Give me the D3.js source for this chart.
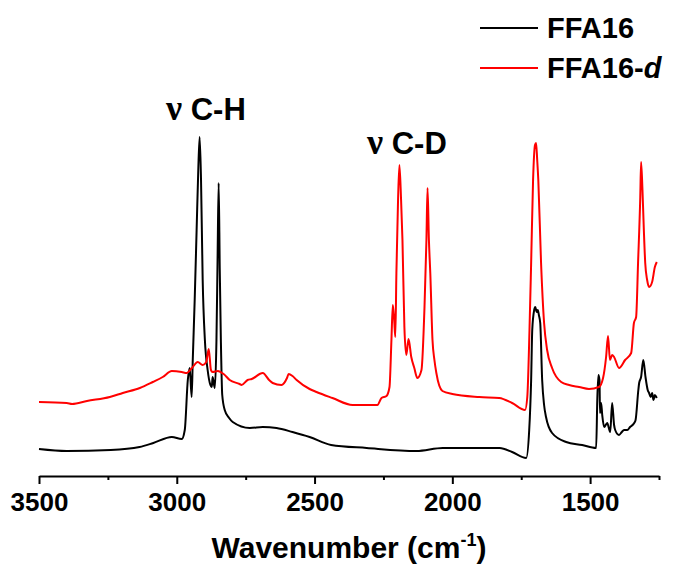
<!DOCTYPE html>
<html>
<head>
<meta charset="utf-8">
<script src="https://cdn.jsdelivr.net/npm/d3@7"></script>
<style>
  body { margin: 0; background: #fff; }
  text { font-family: "Liberation Sans", Arial, sans-serif; font-weight: bold; }
</style>
</head>
<body>
<div id="chart"></div>
<script>
// wavenumber (cm-1) and intensity (a.u.)
var ffaWn = [3500,3400,3240,3135,3085,3018,2982,2971,2960,2953,2946,2942,2935,2928,2922,2917,2912,2906,2898,2888,2878,2873,2870,2862,2856,2852,2848,2844,2840,2835,2826,2810,2797,2735,2688,2638,2580,2518,2440,2311,2130,2035,1900,1828,1783,1732,1721,1714,1710,1703,1699,1694,1690,1686,1681,1674,1667,1660,1638,1587,1529,1478,1474,1470,1466,1464,1460,1456,1449,1438,1427,1420,1413,1409,1395,1385,1377,1365,1355,1340,1335,1325,1322,1315,1307,1299,1291,1286,1280,1275,1270,1265,1258];
var ffaInt = [27,25,26,29,33,39,37,46,96,108,79,116,176,246,306,339,296,196,136,106,91,89,99,88,136,216,293,206,136,81,66,58,54,48,49,48,44,39,31,28,25,28,28,28,24,18,46,96,146,166,169,164,166,161,153,96,71,59,43,34,31,28,76,101,96,63,73,61,49,53,44,73,51,46,41,44,46,46,49,53,56,86,93,99,116,99,86,83,79,83,76,81,78];

var ffadWn = [3500,3399,3380,3326,3243,3196,3134,3087,3051,3018,2982,2964,2945,2924,2906,2893,2884,2876,2870,2851,2830,2808,2772,2765,2743,2728,2688,2665,2652,2620,2600,2594,2580,2565,2518,2493,2435,2362,2300,2272,2257,2239,2228,2221,2216,2211,2207,2203,2197,2192,2186,2181,2174,2167,2159,2149,2138,2127,2112,2101,2094,2090,2085,2080,2072,2065,2058,2036,2000,1902,1830,1783,1736,1728,1720,1714,1707,1700,1696,1692,1688,1678,1667,1656,1638,1605,1576,1540,1504,1468,1453,1442,1435,1428,1420,1413,1395,1373,1351,1341,1333,1326,1318,1315,1310,1305,1300,1293,1286,1275,1265,1258];
var ffadInt = [74,73,72,75,79,83,88,94,99,105,104,103,108,114,111,114,127,106,104,105,102,96,92,91,96,97,103,96,93,91,98,102,100,96,87,84,78,71,71,71,78,80,89,136,171,156,139,203,276,311,276,236,149,121,137,119,108,98,106,169,236,288,236,203,136,116,103,85,82,79,78,73,66,79,146,213,296,331,333,316,296,213,153,126,108,94,91,89,87,89,98,119,140,116,121,119,108,116,123,153,159,213,279,314,286,246,213,196,189,194,209,214];

var majorTicks = [3500,3000,2500,2000,1500];
var minorTicks = [3250,2750,2250,1750,1250];

var seriesNames = ["FFA16", "FFA16-d"];
var seriesColors = ["#000000", "#ff0000"];

var width = 673, height = 569;
var margin = {top: 76, right: 14, bottom: 93, left: 39};

var svg = d3.select("#chart")
    .append("svg")
        .attr("width", width)
        .attr("height", height);

var x = d3.scaleLinear()
    .domain([3500, 1250])
    .range([margin.left, width - margin.right]);

var y = d3.scaleLinear()
    .domain([0, 400])
    .range([height - margin.bottom, margin.top]);

// bottom axis, major + minor ticks
var axisY = height - margin.bottom;
var gx = svg.append("g")
    .attr("transform", "translate(0," + axisY + ")")
    .call(d3.axisBottom(x).tickValues(majorTicks).tickSize(8).tickSizeOuter(0).tickPadding(9).tickFormat(d3.format("d")));
gx.select(".domain").attr("stroke-width", 2);
gx.selectAll(".tick line").attr("stroke-width", 2);
gx.selectAll(".tick text").style("font-size", "26px").attr("fill", "#000");

svg.append("g")
    .attr("transform", "translate(0," + axisY + ")")
    .call(d3.axisBottom(x).tickValues(minorTicks).tickSize(4).tickFormat(""))
    .call(function(g){ g.select(".domain").remove(); })
    .selectAll(".tick line").attr("stroke-width", 2);

// axis title
var title = svg.append("text")
    .attr("x", 349)
    .attr("y", 558)
    .attr("text-anchor", "middle")
    .style("font-size", "30px");
title.append("tspan").text("Wavenumber (cm");
title.append("tspan").attr("dy", -12).style("font-size", "18px").text("-1");
title.append("tspan").attr("dy", 12).text(")");

// spectra
var line = d3.line()
    .x(function(d) { return x(d[0]); })
    .y(function(d) { return y(d[1]); })
    .curve(d3.curveMonotoneX);

var series = [d3.zip(ffaWn, ffaInt), d3.zip(ffadWn, ffadInt)];

svg.selectAll(".spectrum")
    .data(series)
    .enter()
    .append("path")
    .attr("class", "spectrum")
    .attr("fill", "none")
    .attr("stroke", function(d, i) { return seriesColors[i]; })
    .attr("stroke-width", 2)
    .attr("stroke-linejoin", "round")
    .attr("d", line);

// peak labels
var peakLabels = [{x: 166, y: 120, bond: "C-H"}, {x: 367, y: 154, bond: "C-D"}];
var pl = svg.selectAll(".peakLabel")
    .data(peakLabels)
    .enter()
    .append("text")
    .attr("class", "peakLabel")
    .attr("x", function(d) { return d.x; })
    .attr("y", function(d) { return d.y; })
    .style("font-size", "31px");
pl.append("tspan")
    .style("font-family", "'Liberation Serif', 'Times New Roman', serif")
    .style("font-size", "36px")
    .text("\u03bd");
pl.append("tspan").text(function(d) { return " " + d.bond; });

// legend
var legend = svg.selectAll(".legend")
    .data(seriesNames)
    .enter()
    .append("g")
    .attr("class", "legend")
    .attr("transform", function(d, i) { return "translate(480," + (28 + i * 40) + ")"; });

legend.append("line")
    .attr("x1", 0).attr("x2", 58)
    .attr("stroke", function(d, i) { return seriesColors[i]; })
    .attr("stroke-width", 2);

legend.append("text")
    .attr("x", 67)
    .attr("y", 10)
    .style("font-size", "29px")
    .each(function(d) {
        var t = d3.select(this);
        if (d.slice(-2) == "-d") {
            t.append("tspan").text(d.slice(0, -1));
            t.append("tspan").style("font-style", "italic").text("d");
        } else {
            t.text(d);
        }
    });
</script>
</body>
</html>
